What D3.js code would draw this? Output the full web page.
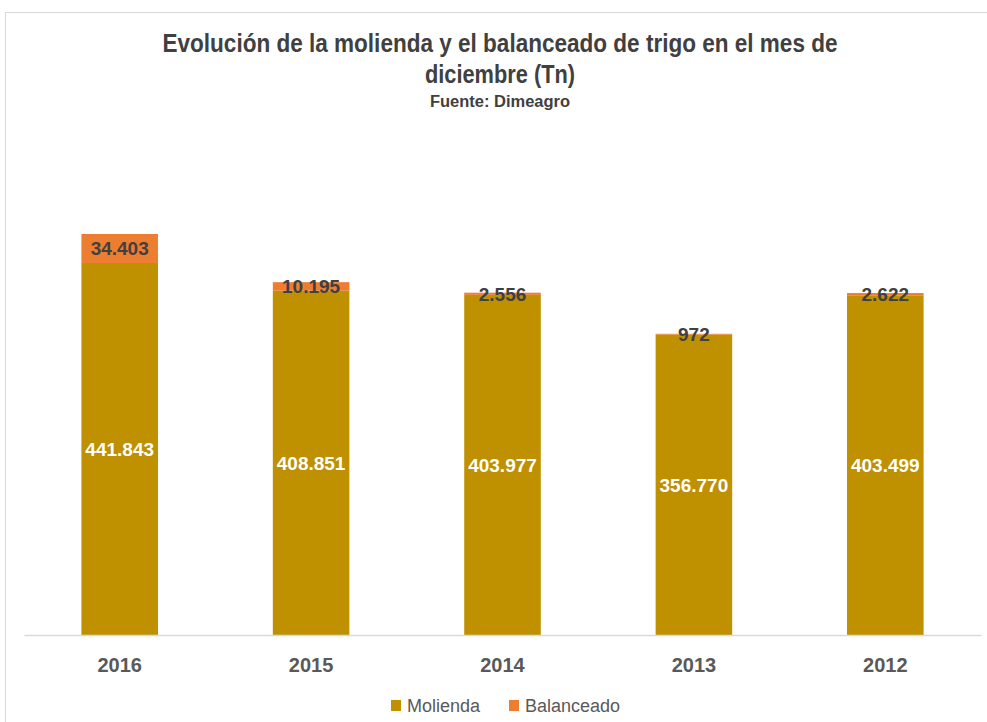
<!DOCTYPE html>
<html>
<head>
<meta charset="utf-8">
<script src="https://cdn.jsdelivr.net/npm/d3@7"></script>
<style>
  body { margin: 0; background: #fff; }
  svg { display: block; font-family: "Liberation Sans", Arial, sans-serif; }
</style>
</head>
<body>
<svg id="chart"></svg>
<script>
const years = ["2016", "2015", "2014", "2013", "2012"];
const molienda = [441843, 408851, 403977, 356770, 403499];
const balanceado = [34403, 10195, 2556, 972, 2622];
const seriesNames = ["Molienda", "Balanceado"];
const colors = ["#bf9000", "#ed7d31"];

const width = 987, height = 722;
const baseY = 635;

const svg = d3.select("#chart")
    .attr("width", width)
    .attr("height", height);

// chart frame
svg.append("rect")
    .attr("x", 5.5).attr("y", 12.5)
    .attr("width", 1000).attr("height", 800)
    .attr("fill", "none")
    .attr("stroke", "#d9d9d9");

const loc = d3.formatLocale({decimal: ",", thousands: ".", grouping: [3], currency: ["$", ""]});
const fmt = loc.format(",d");

const rows = years.map((y, i) => ({year: y, Molienda: molienda[i], Balanceado: balanceado[i]}));
const stacked = d3.stack().keys(seriesNames)(rows);

const x = d3.scaleBand()
    .domain(years)
    .range([24, 981])
    .paddingInner(0.6)
    .paddingOuter(0.3);

const y = d3.scaleLinear()
    .domain([0, 500000])
    .range([baseY, baseY - 421]);

// bars
const layers = svg.selectAll(".layer")
    .data(stacked)
    .enter().append("g")
    .attr("class", "layer")
    .attr("fill", (d, i) => colors[i]);

layers.selectAll("rect")
    .data(d => d)
    .enter().append("rect")
    .attr("x", d => x(d.data.year))
    .attr("y", d => y(d[1]))
    .attr("width", x.bandwidth())
    .attr("height", d => y(d[0]) - y(d[1]));

// x axis
const xAxis = svg.append("g")
    .attr("transform", `translate(0,${baseY})`)
    .call(d3.axisBottom(x).tickSize(0).tickPadding(23));
xAxis.select(".domain").attr("stroke", "#d9d9d9").attr("stroke-width", 1.5);
xAxis.selectAll("text")
    .attr("fill", "#595959")
    .style("font-size", "20px")
    .style("font-weight", "bold")
    .style("font-family", "\"Liberation Sans\", Arial, sans-serif");

// data labels
layers.each(function(series, si) {
    d3.select(this).selectAll("text")
        .data(series)
        .enter().append("text")
        .attr("x", d => x(d.data.year) + x.bandwidth() / 2)
        .attr("y", d => (y(d[0]) + y(d[1])) / 2)
        .attr("dy", "0.36em")
        .attr("text-anchor", "middle")
        .attr("fill", si === 0 ? "#ffffff" : "#404040")
        .style("font-size", "19px")
        .style("font-weight", "bold")
        .text(d => fmt(d.data[series.key]));
});

// title
const title = svg.append("text")
    .attr("text-anchor", "middle")
    .attr("fill", "#404040")
    .style("font-weight", "bold");
title.append("tspan").attr("x", 500).attr("y", 52).style("font-size", "25px")
    .attr("textLength", 675).attr("lengthAdjust", "spacingAndGlyphs")
    .text("Evolución de la molienda y el balanceado de trigo en el mes de");
title.append("tspan").attr("x", 500).attr("y", 83).style("font-size", "25px")
    .attr("textLength", 150).attr("lengthAdjust", "spacingAndGlyphs")
    .text("diciembre (Tn)");
title.append("tspan").attr("x", 500).attr("y", 107).style("font-size", "16px")
    .attr("textLength", 140).attr("lengthAdjust", "spacingAndGlyphs")
    .text("Fuente: Dimeagro");

// legend
const legendX = [391, 509];
const legend = svg.selectAll(".legend")
    .data(seriesNames)
    .enter().append("g")
    .attr("class", "legend")
    .attr("transform", (d, i) => `translate(${legendX[i]},706)`);
legend.append("rect")
    .attr("x", 0).attr("y", -6)
    .attr("width", 10).attr("height", 11)
    .attr("fill", (d, i) => colors[i]);
legend.append("text")
    .attr("x", 16)
    .attr("dy", "0.36em")
    .attr("fill", "#595959")
    .style("font-size", "18px")
    .text(d => d);
</script>
</body>
</html>
